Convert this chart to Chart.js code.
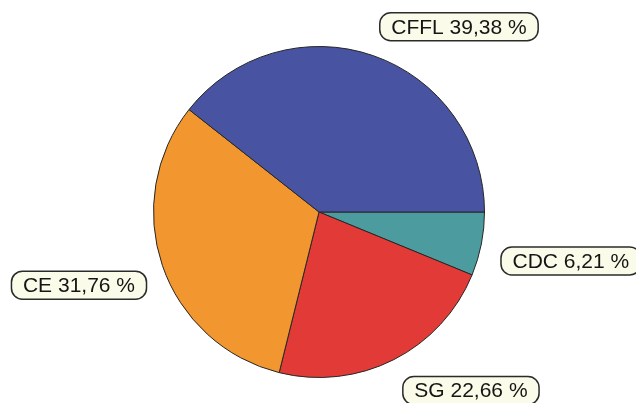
<!DOCTYPE html>
<html>
<head>
<meta charset="utf-8">
<script src="https://cdn.jsdelivr.net/npm/chart.js@4/dist/chart.umd.min.js"></script>
<style>
  html, body { margin: 0; padding: 0; background: #fff; }
  #wrap { width: 636px; height: 403px; }
</style>
</head>
<body>
<div id="wrap"><canvas id="pieChart"></canvas></div>
<script>
// Slices in clockwise order, starting at 3 o'clock
const labels = ['CDC', 'SG', 'CE', 'CFFL'];
const shares = [6.21, 22.66, 31.76, 39.38];
const colors = ['#4b9b9f', '#e23b37', '#f2972f', '#4853a2'];

// Rounded callout boxes next to each slice
const calloutPlugin = {
  id: 'callouts',
  afterDatasetsDraw(chart) {
    const ctx = chart.ctx;
    const arcs = chart.getDatasetMeta(0).data;
    ctx.save();
    ctx.font = '21px "Liberation Sans", Arial, sans-serif';
    ctx.textBaseline = 'middle';
    arcs.forEach((arc, i) => {
      const mid = (arc.startAngle + arc.endAngle) / 2;
      const r = arc.outerRadius + 20;
      const ax = arc.x + Math.cos(mid) * r;
      const ay = arc.y + Math.sin(mid) * r;
      const text = labels[i] + ' ' + shares[i].toFixed(2).replace('.', ',') + ' %';
      const w = ctx.measureText(text).width + 23;
      const h = 28;
      const left = Math.cos(mid) >= 0 ? ax : ax + 3 - w;
      const top = Math.sin(mid) >= 0 ? ay - 1 : ay + 4 - h;
      ctx.beginPath();
      ctx.roundRect(left, top, w, h, 11);
      ctx.fillStyle = '#fbfbe9';
      ctx.fill();
      ctx.lineWidth = 1.5;
      ctx.strokeStyle = '#2b2b2b';
      ctx.stroke();
      ctx.fillStyle = '#151515';
      ctx.textAlign = 'center';
      ctx.fillText(text, left + w / 2, top + h / 2 + 1);
    });
    ctx.restore();
  }
};

const ctxPie = document.getElementById('pieChart').getContext('2d');
const pieChart = new Chart(ctxPie, {
  type: 'pie',
  data: {
    labels: labels,
    datasets: [{
      data: shares,
      backgroundColor: colors,
      borderColor: '#262626',
      borderWidth: 1,
    }]
  },
  options: {
    responsive: true,
    maintainAspectRatio: false,
    animation: false,
    rotation: 90,
    layout: {
      padding: { left: 153, right: 151, top: 46, bottom: 25 }
    },
    plugins: {
      legend: { display: false },
      tooltip: { enabled: false }
    }
  },
  plugins: [calloutPlugin]
});
</script>
</body>
</html>
